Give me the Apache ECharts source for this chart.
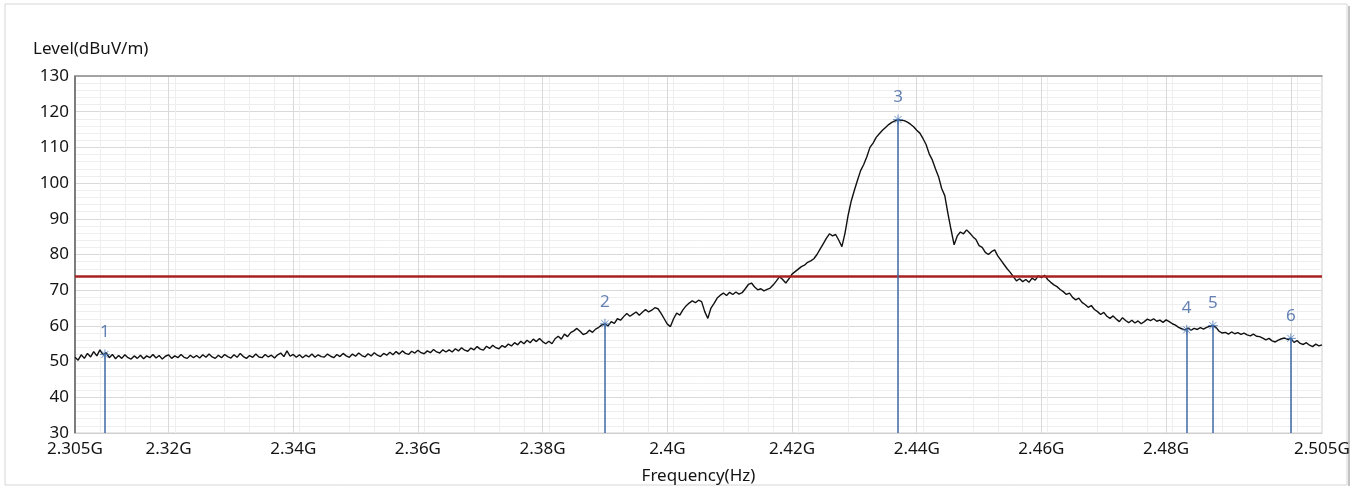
<!DOCTYPE html>
<html><head><meta charset="utf-8">
<script src="https://cdn.jsdelivr.net/npm/echarts@6/dist/echarts.min.js"></script>
<style>html,body{margin:0;padding:0;background:#fff}#c{width:1361px;height:490px}</style>
</head><body><div id="c"></div>
<script>
// sweep: 2.305 GHz to 2.505 GHz, one reading every 0.5 MHz
const freqStart = 2.305;
const freqStep = 0.0005;
const levels = [
 51.2,50.4,51.9,50.9,52.3,51.3,52.8,51.6,53.3,51.9,52.5,51.1,52.0,50.8,51.7,50.9,51.9,51.1,50.7,51.6,
 50.9,51.8,50.8,51.6,51.1,52.0,51.0,51.7,50.7,51.5,51.9,50.9,51.6,51.1,52.0,51.2,50.9,51.8,51.1,51.7,
 51.0,51.9,51.2,52.1,51.3,50.9,51.8,51.1,52.0,51.4,51.0,51.9,51.2,52.3,51.4,50.9,51.7,51.2,52.1,51.3,
 51.1,52.0,51.3,51.8,51.0,51.9,52.4,51.4,53.0,51.5,52.0,51.2,51.9,51.1,51.8,51.3,52.1,51.2,51.9,51.4,
 51.3,52.1,51.5,51.1,52.0,51.4,52.3,51.6,51.2,52.1,51.5,52.4,51.7,51.3,52.2,51.6,52.5,51.8,51.4,52.3,
 51.8,52.6,51.9,52.8,52.1,53.0,52.3,52.0,52.9,52.4,53.2,52.5,52.2,53.0,52.5,53.4,52.7,52.4,53.3,52.7,
 53.3,52.7,53.6,53.0,53.9,53.2,52.9,53.8,53.3,54.2,53.5,53.2,54.3,53.7,54.6,53.9,53.6,54.5,54.0,54.9,
 54.4,55.3,54.7,55.7,55.0,56.0,55.3,56.3,55.6,56.5,55.6,55.0,55.7,55.0,56.4,57.1,56.3,57.7,57.0,58.1,
 58.6,59.3,58.5,57.6,57.9,58.8,58.2,59.1,59.6,60.3,60.5,60.0,61.2,60.7,62.0,61.6,62.6,63.5,62.7,63.3,
 63.9,63.0,63.8,64.6,63.9,64.4,65.1,64.8,63.5,62.0,60.5,59.8,62.0,63.6,63.0,64.5,65.6,66.4,67.0,66.5,
 67.2,66.8,64.0,62.1,65.0,66.3,67.8,68.6,69.2,68.5,69.4,68.8,69.5,68.9,69.3,70.4,71.6,72.0,70.9,70.1,
 70.4,69.8,70.2,70.6,71.5,72.6,73.8,73.0,72.0,73.2,74.5,75.2,75.9,76.6,77.0,77.8,78.2,78.8,80.0,81.5,
 83.0,84.5,85.8,85.2,85.6,84.0,82.2,86.0,91.0,95.0,98.0,100.8,103.5,105.2,107.4,110.0,111.2,112.8,113.8,114.8,
 115.6,116.4,117.0,117.4,117.8,117.6,117.5,117.1,116.5,115.8,114.8,114.0,112.5,110.8,108.2,106.5,104.0,101.8,98.5,96.5,
 91.5,87.0,82.7,85.2,86.3,85.8,86.9,86.0,85.0,84.2,82.5,82.0,80.6,80.0,80.8,81.3,79.6,78.4,77.2,76.0,
 75.0,73.8,72.6,73.2,72.4,73.0,72.2,73.4,72.8,74.0,73.5,74.2,73.0,72.2,71.5,71.0,70.2,69.6,68.8,69.2,
 68.0,67.3,67.8,66.6,66.0,65.2,65.7,64.6,64.0,63.2,63.8,62.7,62.1,62.8,61.9,61.2,62.3,61.5,60.9,61.6,
 60.8,61.4,60.6,61.2,61.9,61.5,62.0,61.3,61.6,61.0,61.7,61.2,60.6,60.2,59.6,59.2,58.9,59.4,58.8,59.3,
 59.0,59.5,59.1,59.6,59.9,60.1,59.6,58.5,58.0,58.2,57.7,58.3,57.8,58.1,57.6,58.0,57.5,57.2,57.7,57.1,
 57.0,56.6,56.1,56.5,55.8,55.5,56.0,56.4,56.6,56.2,56.5,55.4,55.9,55.1,54.8,55.3,54.6,54.2,54.9,54.4,
 54.7
];
const xLabelValues = [2.305, 2.32, 2.34, 2.36, 2.38, 2.40, 2.42, 2.44, 2.46, 2.48, 2.505];
const xGridValues = [2.32, 2.34, 2.36, 2.38, 2.40, 2.42, 2.44, 2.46, 2.48, 2.50];
const limitLevel = 74;
const markerNames = ['1', '2', '3', '4', '5', '6'];
const markerFreqs = [2.3098, 2.3900, 2.4370, 2.4833, 2.4875, 2.5000];
const markerLevels = [52.0, 60.6, 117.8, 58.9, 60.1, 56.5];
const yMin = 30, yMax = 130, yStep = 10;

const trace = levels.map((v, i) => [+(freqStart + i * freqStep).toFixed(4), v]);
const markerPoints = markerFreqs.map((f, i) => ({ value: [f, markerLevels[i]], name: markerNames[i] }));
const markerLines = markerFreqs.map((f, i) => [{ coord: [f, yMin] }, { coord: [f, markerLevels[i]] }]);

const FONT = 'Noto Sans';
const TXT = '#141414';
const chart = echarts.init(document.getElementById('c'), null, { renderer: 'canvas' });
chart.setOption({
  animation: false,
  backgroundColor: '#ffffff',
  textStyle: { fontFamily: FONT },
  title: {
    text: 'Level(dBuV/m)', left: 28, top: 36,
    textStyle: { fontFamily: FONT, fontSize: 17, fontWeight: 'normal', color: TXT }
  },
  graphic: [
    { type: 'rect', shape: { x: 5, y: 4, width: 1342, height: 481 }, style: { fill: 'none', stroke: '#d6d6d6', lineWidth: 1 }, silent: true, z: -1 },
    { type: 'line', shape: { x1: 1349, y1: 6, x2: 1349, y2: 486 }, style: { stroke: '#c4c4c4', lineWidth: 2 }, silent: true, z: -1 }
  ],
  grid: { left: 75, right: 39, top: 76, bottom: 57, show: true, borderColor: '#cfcfcf', borderWidth: 1, backgroundColor: '#ffffff' },
  xAxis: [{
    type: 'value', min: xLabelValues[0], max: xLabelValues[xLabelValues.length - 1], interval: 0.02,
    name: 'Frequency(Hz)', nameLocation: 'middle', nameGap: 35,
    nameTextStyle: { fontFamily: FONT, fontSize: 17, color: TXT },
    axisLine: { show: true, lineStyle: { color: '#cfcfcf', width: 1 } },
    axisTick: { show: false, customValues: xGridValues },
    axisLabel: {
      customValues: xLabelValues, margin: 8, fontFamily: FONT, fontSize: 17, color: TXT,
      formatter: v => (+v.toFixed(3)) + 'G'
    },
    splitLine: { show: true, lineStyle: { color: '#d9d9d9', width: 1 } },
    minorTick: { show: false, splitNumber: 5 },
    minorSplitLine: { show: true, lineStyle: { color: '#eeeeee', width: 1 } }
  }, {
    type: 'value', position: 'top', min: xLabelValues[0], max: xLabelValues[xLabelValues.length - 1],
    axisLine: { show: true, lineStyle: { color: '#8f8f8f', width: 1.5 } },
    axisTick: { show: false }, axisLabel: { show: false }, splitLine: { show: false }
  }],
  yAxis: {
    type: 'value', min: yMin, max: yMax, interval: yStep,
    axisLine: { show: true, lineStyle: { color: '#5a5a5a', width: 1.5 } },
    axisTick: { show: false },
    axisLabel: { margin: 6, fontFamily: FONT, fontSize: 17, color: TXT },
    splitLine: { show: true, lineStyle: { color: '#d9d9d9', width: 1 } },
    minorTick: { show: false, splitNumber: 5 },
    minorSplitLine: { show: true, lineStyle: { color: '#eeeeee', width: 1 } }
  },
  series: [
    {
      type: 'line', data: trace, showSymbol: false, symbol: 'none',
      lineStyle: { color: '#111111', width: 1.4 }, z: 3, silent: true,
      markLine: {
        silent: true, symbol: ['none', 'none'], label: { show: false },
        lineStyle: { color: '#a82222', width: 2.5, type: 'solid' },
        data: [{ yAxis: limitLevel }]
      }
    },
    {
      type: 'line', data: [], silent: true,
      markLine: {
        silent: true, symbol: ['none', 'none'], label: { show: false },
        lineStyle: { color: '#3e68a6', width: 1.5, type: 'solid' },
        data: markerLines
      }, z: 2
    },
    {
      type: 'scatter', data: markerPoints, z: 4, silent: true,
      symbol: 'path://M5,0L5,10M0,5L10,5M1.5,1.5L8.5,8.5M8.5,1.5L1.5,8.5',
      symbolSize: 10,
      itemStyle: { color: 'none', borderColor: '#4a78b8', borderWidth: 1 },
      label: {
        show: true, position: 'top', distance: 6, formatter: p => p.name,
        fontFamily: FONT, fontSize: 17, color: '#3f63a0'
      }
    }
  ]
});
</script></body></html>
